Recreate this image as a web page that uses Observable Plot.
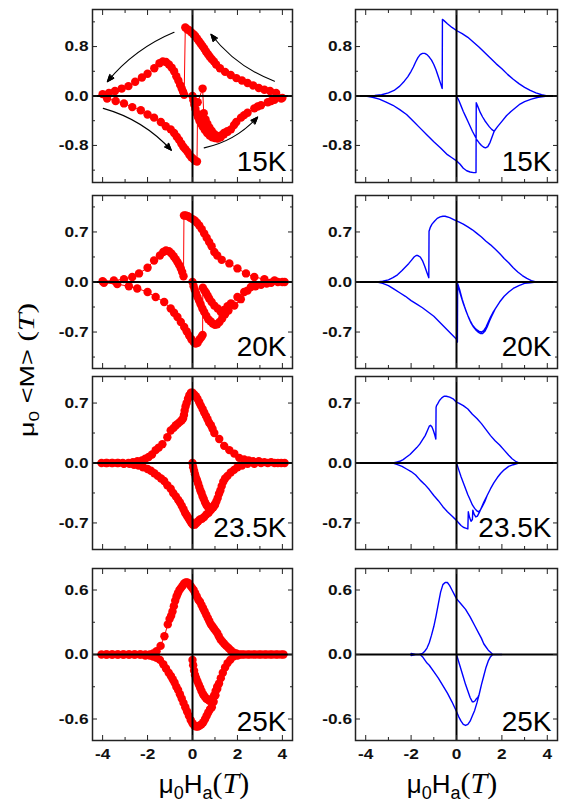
<!DOCTYPE html>
<html>
<head>
<meta charset="utf-8">
<script src="https://cdn.jsdelivr.net/npm/d3@7"></script>
<script src="https://cdn.jsdelivr.net/npm/@observablehq/plot@0.6"></script>
<style>
  html, body { margin: 0; padding: 0; background: #fff; }
  #root { position: relative; width: 564px; height: 806px; overflow: hidden; background: #fff; }
  .panel { position: absolute; }
  .overlay { position: absolute; left: 0; top: 0; pointer-events: none; }
</style>
</head>
<body>
<div id="root"></div>
<script>
// ---------------- DATA ----------------
const temps = ["15K", "20K", "23.5K", "25K"];
const hTicksMajor = [-4, -2, 0, 2, 4];
const hTicksMinor = [-3, -1, 1, 3];
const mTicksMajor = [[-0.8, 0, 0.8], [-0.7, 0, 0.7], [-0.7, 0, 0.7], [-0.6, 0, 0.6]];
const mTicksMinor = [[-1.2, -0.4, 0.4, 1.2], [-1.05, -0.35, 0.35, 1.05], [-0.35, 0.35], [-0.3, 0.3]];
const mDomains = [[-1.4, 1.4], [-1.21, 1.21], [-1.01, 1.01], [-0.8, 0.8]];
const hDomain = [-4.45, 4.45];

// measured (red dots): [mu0 Ha, mu0 <M>] in sweep order
const exp15K = [
  [0,0],[0.04,-0.07],[0.08,-0.14],[0.13,-0.21],[0.18,-0.28],[0.24,-0.34],[0.31,-0.4],[0.38,-0.45],[0.46,-0.5],[0.55,-0.55],[0.65,-0.6],[0.76,-0.64],[0.88,-0.67],[1.0,-0.68],[1.12,-0.69],[1.25,-0.67],[1.4,-0.62],[1.56,-0.58],[1.85,-0.47],[2.3,-0.31],[2.9,-0.17],[3.5,-0.08],[4.0,-0.03],
  [3.72,0.05],[3.45,0.08],[3.2,0.1],[2.95,0.13],[2.7,0.17],[2.45,0.21],[2.2,0.25],[1.95,0.29],[1.7,0.34],[1.45,0.39],[1.22,0.45],[1.05,0.51],[0.95,0.56],[0.85,0.6],[0.76,0.64],[0.68,0.68],[0.6,0.72],[0.52,0.77],[0.44,0.81],[0.36,0.85],[0.28,0.89],[0.2,0.93],[0.12,0.97],[0.04,1.0],[-0.05,1.03],[-0.14,1.06],[-0.23,1.08],[-0.32,1.11],
  [-0.37,0.02],[-0.42,0.07],[-0.48,0.12],[-0.55,0.18],[-0.63,0.25],[-0.72,0.32],[-0.82,0.4],[-0.93,0.46],[-1.05,0.51],[-1.18,0.55],[-1.32,0.56],[-1.47,0.53],[-1.7,0.45],[-2.0,0.36],[-2.25,0.3],[-2.55,0.23],[-2.85,0.16],[-3.15,0.12],[-3.45,0.08],[-3.72,0.05],[-4.0,0.03],
  [-3.8,-0.04],[-3.42,-0.08],[-3.05,-0.12],[-2.68,-0.18],[-2.3,-0.23],[-2.0,-0.3],[-1.71,-0.35],[-1.41,-0.42],[-1.19,-0.49],[-0.97,-0.54],[-0.82,-0.6],[-0.7,-0.66],[-0.6,-0.71],[-0.5,-0.77],[-0.41,-0.82],[-0.32,-0.86],[-0.23,-0.9],[-0.14,-0.95],[-0.05,-0.99],[0.04,-1.02],[0.12,-1.05],[0.2,-1.06],
  [0.23,-0.1],[0.45,0.12],[0.5,-0.28],[0.58,-0.38],[0.66,-0.45],[0.75,-0.51],[0.85,-0.56],[0.95,-0.61],[1.05,-0.64],[1.15,-0.66],[1.27,-0.64],[1.4,-0.6],[1.55,-0.57],[1.71,-0.54],[1.95,-0.42],[2.16,-0.35],[2.45,-0.27],[2.75,-0.2],[3.05,-0.15],[3.35,-0.1],[3.65,-0.06],[3.95,-0.04]
];
const exp20K = [
  [0,0],[0.05,-0.06],[0.1,-0.11],[0.16,-0.16],[0.22,-0.21],[0.29,-0.26],[0.36,-0.31],[0.44,-0.37],[0.52,-0.42],[0.61,-0.47],[0.7,-0.52],[0.8,-0.55],[0.9,-0.58],[1.0,-0.6],[1.1,-0.59],[1.2,-0.56],[1.32,-0.51],[1.45,-0.45],[1.6,-0.4],[1.86,-0.33],[2.15,-0.24],[2.45,-0.12],[2.8,-0.06],[3.3,-0.02],[3.8,0],[4.1,0],
  [3.65,0.02],[3.2,0.04],[2.75,0.07],[2.38,0.12],[2.0,0.19],[1.64,0.26],[1.3,0.31],[1.1,0.37],[0.97,0.42],[0.85,0.5],[0.74,0.56],[0.63,0.62],[0.52,0.68],[0.41,0.74],[0.3,0.79],[0.2,0.83],[0.1,0.86],[0,0.88],[-0.1,0.9],[-0.2,0.92],[-0.3,0.93],[-0.38,0.93],
  [-0.4,0.08],[-0.46,0.14],[-0.52,0.19],[-0.6,0.24],[-0.67,0.28],[-0.75,0.32],[-0.84,0.36],[-0.94,0.4],[-1.05,0.43],[-1.18,0.44],[-1.3,0.42],[-1.45,0.37],[-1.71,0.3],[-2.0,0.2],[-2.38,0.12],[-2.68,0.07],[-3.05,0.04],[-3.5,0.02],[-4.0,0.01],
  [-3.94,-0.01],[-3.35,-0.03],[-2.83,-0.06],[-2.46,-0.09],[-2.0,-0.14],[-1.64,-0.21],[-1.26,-0.28],[-0.97,-0.37],[-0.82,-0.43],[-0.67,-0.49],[-0.52,-0.56],[-0.37,-0.63],[-0.26,-0.69],[-0.15,-0.75],[-0.05,-0.8],[0.05,-0.84],[0.14,-0.86],[0.23,-0.85],[0.32,-0.8],[0.4,-0.77],[0.45,-0.74],
  [0.46,-0.08],[0.53,-0.12],[0.6,-0.15],[0.67,-0.19],[0.74,-0.23],[0.85,-0.28],[0.97,-0.33],[1.12,-0.37],[1.26,-0.42],[1.4,-0.39],[1.56,-0.34],[1.71,-0.3],[2.0,-0.21],[2.3,-0.14],[2.6,-0.07],[3.05,-0.04],[3.5,-0.01],[4.0,0]
];
const exp23K = [
  [0,0],[0.03,-0.05],[0.07,-0.09],[0.11,-0.13],[0.15,-0.17],[0.2,-0.2],[0.25,-0.24],[0.3,-0.28],[0.35,-0.32],[0.4,-0.35],[0.45,-0.39],[0.5,-0.42],[0.56,-0.46],[0.62,-0.49],[0.68,-0.51],[0.75,-0.53],[0.82,-0.53],[0.89,-0.52],[0.95,-0.5],[1.0,-0.48],[1.06,-0.45],[1.12,-0.41],[1.18,-0.36],[1.24,-0.32],[1.3,-0.27],[1.37,-0.22],[1.45,-0.18],[1.56,-0.15],[1.7,-0.11],[1.85,-0.08],[2.0,-0.05],[2.2,-0.03],[2.45,-0.01],[2.75,-0.01],[3.05,0],[3.35,0],[3.65,0],[3.95,0],[4.1,0],
  [3.8,0],[3.5,0.01],[3.2,0.01],[2.95,0.02],[2.7,0.02],[2.5,0.03],[2.3,0.04],[2.08,0.06],[1.86,0.11],[1.64,0.15],[1.41,0.2],[1.19,0.28],[0.97,0.35],[0.89,0.4],[0.82,0.44],[0.74,0.47],[0.67,0.51],[0.6,0.55],[0.52,0.59],[0.45,0.63],[0.37,0.67],[0.3,0.71],[0.22,0.75],[0.15,0.78],[0.07,0.8],[0,0.82],[-0.07,0.82],[-0.14,0.79],[-0.2,0.75],[-0.26,0.7],[-0.31,0.66],[-0.35,0.61],[-0.38,0.56],[-0.42,0.52],[-0.48,0.5],[-0.56,0.48],[-0.65,0.46],[-0.74,0.44],[-0.84,0.41],[-0.97,0.38],[-1.12,0.3],[-1.34,0.22],[-1.5,0.18],[-1.64,0.15],[-1.8,0.1],[-1.95,0.07],[-2.1,0.05],[-2.25,0.03],[-2.45,0.02],[-2.65,0.01],[-2.85,0],[-3.1,0],[-3.35,0],[-3.6,0],[-3.85,0],[-4.05,0],
  [-3.8,0],[-3.55,0],[-3.3,0],[-3.05,-0.01],[-2.8,-0.01],[-2.6,-0.02],[-2.4,-0.03],[-2.2,-0.05],[-2.0,-0.07],[-1.85,-0.09],[-1.7,-0.12],[-1.55,-0.15],[-1.4,-0.18],[-1.26,-0.21],[-1.12,-0.26],[-0.97,-0.3],[-0.86,-0.35],[-0.74,-0.39],[-0.64,-0.43],[-0.56,-0.46],[-0.48,-0.5],[-0.4,-0.54],[-0.33,-0.58],[-0.26,-0.61],[-0.19,-0.64],[-0.12,-0.67],[-0.05,-0.7],[0.02,-0.72],[0.1,-0.72],[0.18,-0.7],[0.25,-0.68],[0.33,-0.66],[0.42,-0.65],[0.52,-0.63],[0.62,-0.6],[0.72,-0.58],[0.82,-0.55],[0.92,-0.52],[1.0,-0.49]
];
const exp25K = [
  [0,-0.05],[0.03,-0.1],[0.07,-0.15],[0.11,-0.19],[0.16,-0.22],[0.22,-0.25],[0.28,-0.28],[0.34,-0.31],[0.4,-0.34],[0.47,-0.37],[0.54,-0.39],[0.61,-0.41],[0.68,-0.42],[0.75,-0.43],[0.82,-0.42],[0.89,-0.41],[0.96,-0.38],[1.03,-0.34],[1.1,-0.3],[1.18,-0.27],[1.26,-0.22],[1.35,-0.17],[1.45,-0.12],[1.56,-0.08],[1.68,-0.05],[1.82,-0.02],[2.0,-0.01],[2.2,0],[2.45,0],[2.7,0],[2.95,0],[3.2,0],[3.45,0],[3.7,0],[3.95,0],[4.05,0],
  [3.8,0],[3.55,0],[3.3,0],[3.05,0],[2.8,0],[2.55,0],[2.3,0],[2.1,0],[1.95,0.01],[1.82,0.02],[1.7,0.04],[1.6,0.06],[1.5,0.08],[1.41,0.1],[1.33,0.12],[1.25,0.14],[1.17,0.17],[1.1,0.2],[1.03,0.22],[0.96,0.24],[0.89,0.26],[0.82,0.28],[0.75,0.31],[0.68,0.34],[0.61,0.37],[0.54,0.4],[0.47,0.43],[0.4,0.46],[0.33,0.49],[0.26,0.51],[0.19,0.54],[0.12,0.57],[0.05,0.6],[-0.02,0.62],[-0.09,0.64],[-0.16,0.66],[-0.23,0.67],[-0.3,0.67],[-0.37,0.66],[-0.44,0.64],[-0.51,0.62],[-0.58,0.6],[-0.65,0.57],[-0.71,0.54],[-0.77,0.5],[-0.83,0.45],[-0.89,0.4],[-0.95,0.36],[-1.02,0.33],[-1.1,0.28],[-1.25,0.17],[-1.42,0.08],[-1.6,0.03],[-1.75,0.01],[-1.9,0],[-2.1,0],[-2.35,0],[-2.6,0],[-2.85,0],[-3.1,0],[-3.35,0],[-3.6,0],[-3.85,0],[-4.05,0],
  [-3.8,0],[-3.55,0],[-3.3,0],[-3.05,0],[-2.8,0],[-2.55,0],[-2.3,0],[-2.1,-0.01],[-1.9,-0.01],[-1.75,-0.02],[-1.6,-0.03],[-1.45,-0.05],[-1.3,-0.09],[-1.18,-0.13],[-1.06,-0.17],[-0.96,-0.2],[-0.88,-0.23],[-0.8,-0.26],[-0.72,-0.3],[-0.64,-0.33],[-0.56,-0.37],[-0.48,-0.41],[-0.4,-0.45],[-0.32,-0.49],[-0.24,-0.53],[-0.16,-0.57],[-0.08,-0.61],[0,-0.64],[0.08,-0.66],[0.16,-0.67],[0.24,-0.67],[0.32,-0.66],[0.4,-0.65],[0.48,-0.63],[0.56,-0.6],[0.63,-0.57],[0.7,-0.54],[0.78,-0.51],[0.86,-0.49],[0.94,-0.44],[1.02,-0.38],[1.1,-0.32]
];

// simulated (blue lines): [mu0 Ha, mu0 <M>] in sweep order
const sim15K = [
  [0,0],[0.1,-0.07],[0.2,-0.16],[0.3,-0.25],[0.4,-0.33],[0.5,-0.41],[0.6,-0.49],[0.7,-0.57],[0.8,-0.64],[0.9,-0.71],[1.0,-0.76],[1.1,-0.8],[1.2,-0.83],[1.28,-0.84],[1.38,-0.82],[1.48,-0.75],[1.57,-0.66],[1.66,-0.57],[1.8,-0.5],[2.0,-0.41],[2.2,-0.32],[2.4,-0.25],[2.6,-0.19],[2.8,-0.13],[3.0,-0.09],[3.3,-0.05],[3.6,-0.02],[4.0,0],
  [3.75,0.02],[3.5,0.05],[3.25,0.09],[3.0,0.14],[2.75,0.2],[2.5,0.27],[2.25,0.35],[2.0,0.44],[1.75,0.52],[1.5,0.61],[1.25,0.7],[1.0,0.79],[0.75,0.87],[0.5,0.95],[0.25,1.01],[0,1.06],[-0.2,1.11],[-0.4,1.17],[-0.55,1.22],[-0.62,1.24],
  [-0.63,0.12],[-0.7,0.2],[-0.8,0.31],[-0.9,0.42],[-1.0,0.51],[-1.1,0.58],[-1.2,0.63],[-1.3,0.67],[-1.4,0.69],[-1.5,0.69],[-1.6,0.67],[-1.7,0.62],[-1.8,0.55],[-1.9,0.47],[-2.0,0.4],[-2.15,0.31],[-2.3,0.24],[-2.5,0.16],[-2.75,0.09],[-3.0,0.05],[-3.3,0.02],[-3.6,0.01],[-4.0,0],
  [-3.7,-0.02],[-3.4,-0.05],[-3.1,-0.1],[-2.8,-0.15],[-2.5,-0.22],[-2.2,-0.3],[-1.9,-0.41],[-1.6,-0.52],[-1.3,-0.63],[-1.0,-0.74],[-0.7,-0.84],[-0.4,-0.95],[-0.2,-1.0],[0,-1.05],[0.15,-1.1],[0.3,-1.17],[0.45,-1.21],[0.6,-1.23],[0.75,-1.24],[0.86,-1.24],
  [0.87,-0.11],[0.95,-0.18],[1.05,-0.27],[1.15,-0.34],[1.25,-0.4],[1.35,-0.45],[1.45,-0.5],[1.55,-0.54],[1.66,-0.57],[1.8,-0.5],[2.0,-0.41],[2.2,-0.32],[2.4,-0.25],[2.6,-0.19],[2.8,-0.13],[3.0,-0.09],[3.3,-0.05],[3.6,-0.02],[4.0,0]
];
const sim20K = [
  [0,0],[0.1,-0.09],[0.2,-0.2],[0.3,-0.3],[0.4,-0.39],[0.5,-0.47],[0.6,-0.54],[0.7,-0.6],[0.8,-0.64],[0.9,-0.67],[1.0,-0.69],[1.1,-0.7],[1.2,-0.68],[1.3,-0.63],[1.4,-0.56],[1.5,-0.49],[1.6,-0.43],[1.7,-0.38],[1.9,-0.28],[2.1,-0.2],[2.3,-0.14],[2.5,-0.09],[2.75,-0.05],[3.0,-0.02],[3.25,-0.01],[3.5,0],
  [3.3,0.02],[3.1,0.05],[2.9,0.09],[2.7,0.14],[2.5,0.2],[2.3,0.27],[2.1,0.33],[1.9,0.4],[1.7,0.46],[1.5,0.52],[1.3,0.57],[1.1,0.63],[0.9,0.68],[0.7,0.73],[0.5,0.77],[0.3,0.81],[0.1,0.84],[-0.1,0.87],[-0.3,0.9],[-0.5,0.92],[-0.6,0.92],[-0.72,0.91],[-0.85,0.89],[-0.97,0.85],[-1.08,0.81],[-1.16,0.76],[-1.21,0.71],
  [-1.22,0.06],[-1.3,0.13],[-1.4,0.22],[-1.5,0.3],[-1.6,0.35],[-1.7,0.37],[-1.78,0.37],[-1.87,0.35],[-1.97,0.31],[-2.1,0.26],[-2.25,0.21],[-2.4,0.16],[-2.6,0.1],[-2.8,0.06],[-3.0,0.03],[-3.25,0.01],[-3.5,0],
  [-3.25,-0.02],[-3.0,-0.05],[-2.75,-0.1],[-2.5,-0.15],[-2.25,-0.2],[-2.0,-0.26],[-1.75,-0.31],[-1.5,-0.36],[-1.25,-0.42],[-1.0,-0.48],[-0.75,-0.56],[-0.5,-0.64],[-0.25,-0.72],[0,-0.8],[0.04,-0.84],
  [0.05,-0.02],[0.15,-0.12],[0.25,-0.24],[0.35,-0.34],[0.45,-0.43],[0.55,-0.51],[0.65,-0.58],[0.75,-0.63],[0.85,-0.67],[0.95,-0.7],[1.05,-0.72],[1.15,-0.72],[1.25,-0.69],[1.35,-0.63],[1.45,-0.55],[1.55,-0.48],[1.7,-0.38],[1.9,-0.28],[2.1,-0.2],[2.3,-0.14],[2.5,-0.09],[2.75,-0.05],[3.0,-0.02],[3.25,-0.01],[3.5,0]
];
const sim23K = [
  [0,0],[0.1,-0.08],[0.2,-0.16],[0.3,-0.23],[0.4,-0.3],[0.5,-0.37],[0.6,-0.43],[0.7,-0.49],[0.8,-0.53],[0.9,-0.56],[0.97,-0.57],[1.05,-0.55],[1.15,-0.5],[1.25,-0.45],[1.35,-0.38],[1.5,-0.3],[1.65,-0.23],[1.8,-0.17],[1.95,-0.12],[2.1,-0.08],[2.3,-0.04],[2.5,-0.02],[2.75,0],
  [2.6,0.02],[2.45,0.05],[2.3,0.09],[2.1,0.15],[1.9,0.21],[1.7,0.26],[1.5,0.32],[1.3,0.39],[1.1,0.46],[0.9,0.52],[0.7,0.57],[0.5,0.63],[0.3,0.67],[0.1,0.7],[0,0.71],[-0.15,0.75],[-0.3,0.77],[-0.45,0.78],[-0.55,0.78],[-0.65,0.76],[-0.75,0.73],[-0.83,0.69],[-0.88,0.67],[-0.9,0.65],
  [-0.91,0.28],[-0.96,0.33],[-1.02,0.38],[-1.08,0.42],[-1.14,0.44],[-1.2,0.43],[-1.28,0.38],[-1.38,0.32],[-1.5,0.27],[-1.62,0.22],[-1.75,0.18],[-1.9,0.14],[-2.05,0.1],[-2.2,0.07],[-2.35,0.04],[-2.5,0.02],[-2.65,0.01],[-2.8,0],
  [-2.6,-0.02],[-2.4,-0.04],[-2.2,-0.07],[-2.0,-0.1],[-1.8,-0.14],[-1.6,-0.2],[-1.4,-0.25],[-1.2,-0.31],[-1.0,-0.38],[-0.8,-0.44],[-0.6,-0.51],[-0.4,-0.57],[-0.2,-0.62],[0,-0.67],[0.1,-0.7],[0.2,-0.73],[0.3,-0.75],[0.4,-0.76],[0.5,-0.77],
  [0.52,-0.57],[0.58,-0.64],[0.64,-0.68],[0.7,-0.66],[0.72,-0.55],[0.78,-0.6],[0.85,-0.63],[0.92,-0.62],[1.0,-0.58],[1.1,-0.52],[1.2,-0.46],[1.35,-0.38],[1.5,-0.3],[1.65,-0.23],[1.8,-0.17],[1.95,-0.12],[2.1,-0.08],[2.3,-0.04],[2.5,-0.02],[2.75,0]
];
const sim25K = [
  [0,0],[0.1,-0.07],[0.2,-0.14],[0.3,-0.21],[0.4,-0.28],[0.5,-0.34],[0.6,-0.4],[0.7,-0.44],[0.76,-0.44],[0.82,-0.43],[0.88,-0.41],[0.94,-0.4],[1.0,-0.37],[1.1,-0.28],[1.2,-0.2],[1.3,-0.12],[1.4,-0.06],[1.5,-0.02],[1.6,0],[1.8,0],[2.0,0],
  [1.8,0],[1.6,0],[1.5,0.02],[1.4,0.04],[1.3,0.07],[1.2,0.1],[1.1,0.15],[1.0,0.19],[0.8,0.27],[0.6,0.35],[0.4,0.42],[0.2,0.47],[0,0.52],[-0.1,0.56],[-0.2,0.6],[-0.3,0.64],[-0.4,0.67],[-0.5,0.67],[-0.6,0.65],[-0.7,0.58],[-0.8,0.47],[-0.9,0.36],[-1.0,0.26],[-1.1,0.18],[-1.2,0.11],[-1.3,0.06],[-1.4,0.03],[-1.5,0.01],[-1.65,0],[-1.8,0],[-2.0,0.01],
  [-2.0,-0.01],[-1.8,0],[-1.6,0],[-1.5,-0.02],[-1.4,-0.05],[-1.3,-0.08],[-1.2,-0.1],[-1.0,-0.16],[-0.8,-0.22],[-0.6,-0.29],[-0.4,-0.36],[-0.2,-0.44],[0,-0.53],[0.1,-0.58],[0.2,-0.62],[0.3,-0.65],[0.4,-0.66],[0.5,-0.65],[0.6,-0.62],[0.7,-0.57],[0.8,-0.52],[0.9,-0.45],[1.0,-0.37],[1.1,-0.28],[1.2,-0.2],[1.3,-0.12],[1.4,-0.06],[1.5,-0.02],[1.6,0],[1.8,0],[2.0,0]
];
const expSeries = [exp15K, exp20K, exp23K, exp25K];
const simSeries = [sim15K, sim20K, sim23K, sim25K];

// sweep-direction arrows drawn in the 15K measured panel: [H1, M1, H2, M2]
const sweepArrows15K = [
  [-0.82, 1.03, -3.79, 0.23],
  [3.65, 0.24, 0.82, 1.0],
  [-3.97, -0.2, -0.94, -0.88],
  [0.52, -0.84, 2.9, -0.34]
];
const sweepArrowBend = [-14, 16, 16, -18];

// ---------------- LAYOUT ----------------
const SANS = "'Liberation Sans', Arial, Helvetica, sans-serif";
const SERIF = "'Liberation Serif', 'Times New Roman', serif";
const rows = [{top: 9, bottom: 182}, {top: 195, bottom: 368}, {top: 376, bottom: 549}, {top: 568, bottom: 740}];
const cols = [{left: 0, width: 300, ml: 92, mr: 8, pad: 4}, {left: 280, width: 284, ml: 75, mr: 7, pad: 3.5}];
const labelLift = [12, 13, 12.5, 10];

const root = document.getElementById("root");

function stretchText(svg, selector, sx) {
  d3.select(svg).selectAll(selector).each(function () {
    let t = this.getAttribute("transform");
    if (!t) {
      const x = this.getAttribute("x") || 0, y = this.getAttribute("y") || 0;
      this.removeAttribute("x"); this.removeAttribute("y");
      t = `translate(${x},${y})`;
    }
    this.setAttribute("transform", `${t} scale(${sx},1)`);
  });
}

function fillArrowHeads(svg) {
  d3.select(svg).selectAll('g[aria-label="arrow"] path').each(function () {
    const d = this.getAttribute("d");
    const i = d.lastIndexOf("M");
    if (i <= 0) return;
    const p = document.createElementNS("http://www.w3.org/2000/svg", "path");
    p.setAttribute("d", d.slice(i) + "Z");
    p.setAttribute("fill", "#000");
    p.setAttribute("stroke", "#000");
    p.setAttribute("stroke-width", "1");
    p.setAttribute("stroke-linejoin", "miter");
    this.parentNode.appendChild(p);
  });
}

function panel(row, col) {
  const r = rows[row], c = cols[col];
  const isBottom = row === 3;
  const mt = 2, mb = isBottom ? 28 : 2;
  const height = (r.bottom - r.top) + mt + mb;
  const pts = col === 0 ? expSeries[row] : simSeries[row];
  const H = pts.map(d => d[0]), M = pts.map(d => d[1]);
  const marks = [];
  if (col === 0) {
    marks.push(Plot.line(pts, {x: H, y: M, stroke: "#ff0000", strokeWidth: 1, curve: "linear"}));
    marks.push(Plot.dot(pts, {x: H, y: M, r: 4.2, fill: "#ff0000", stroke: "none"}));
  } else {
    marks.push(Plot.line(pts, {x: H, y: M, stroke: "#0000ff", strokeWidth: 1.4, curve: "linear"}));
  }
  if (row === 0 && col === 0) {
    sweepArrows15K.forEach((a, i) => {
      marks.push(Plot.arrow([a], {x1: d => d[0], y1: d => d[1], x2: d => d[2], y2: d => d[3],
        bend: sweepArrowBend[i], stroke: "#000", strokeWidth: 1.1, headLength: 10, headAngle: 42}));
    });
  }
  marks.push(
    Plot.ruleY([0], {stroke: "#000", strokeWidth: 2}),
    Plot.ruleX([0], {stroke: "#000", strokeWidth: 2}),
    Plot.frame({stroke: "#222", strokeWidth: 1.5}),
    Plot.axisY(mTicksMajor[row], {anchor: "left", tickSize: -5, fill: "none", label: null, stroke: "#222"}),
    Plot.axisY(mTicksMinor[row], {anchor: "left", tickSize: -3, fill: "none", label: null, stroke: "#222"}),
    Plot.axisY(mTicksMajor[row], {anchor: "right", tickSize: -5, fill: "none", label: null, stroke: "#222"}),
    Plot.axisY(mTicksMinor[row], {anchor: "right", tickSize: -3, fill: "none", label: null, stroke: "#222"}),
    Plot.axisX(hTicksMajor, {anchor: "top", tickSize: -5, fill: "none", label: null, stroke: "#222"}),
    Plot.axisX(hTicksMinor, {anchor: "top", tickSize: -3, fill: "none", label: null, stroke: "#222"}),
    Plot.axisX(hTicksMajor, {anchor: "bottom", tickSize: -5, fill: "none", label: null, stroke: "#222"}),
    Plot.axisX(hTicksMinor, {anchor: "bottom", tickSize: -3, fill: "none", label: null, stroke: "#222"}),
    Plot.axisY(mTicksMajor[row], {anchor: "left", tickSize: 0, tickPadding: c.pad, label: null,
      tickFormat: d => d.toFixed(1), fontSize: 15, fontWeight: "bold", fill: "#111"}),
    Plot.text([temps[row]], {frameAnchor: "bottom-right", dx: -6, dy: -labelLift[row], text: d => d,
      textAnchor: "end", lineAnchor: "bottom", fontSize: 28, fill: "#000", fontFamily: SANS})
  );
  if (isBottom) {
    marks.push(Plot.axisX(hTicksMajor, {anchor: "bottom", tickSize: 0, tickPadding: 8, label: null,
      tickFormat: d => String(d), fontSize: 15, fontWeight: "bold", fill: "#111"}));
  }
  const svg = Plot.plot({
    width: c.width, height,
    marginLeft: c.ml, marginRight: c.mr, marginTop: mt, marginBottom: mb,
    style: {background: "transparent", maxWidth: "none", overflow: "visible", fontFamily: SANS},
    x: {domain: hDomain},
    y: {domain: mDomains[row]},
    marks
  });
  stretchText(svg, 'g[aria-label="y-axis tick label"] text, g[aria-label="x-axis tick label"] text', 1.15);
  fillArrowHeads(svg);
  const div = document.createElement("div");
  div.className = "panel";
  div.style.left = c.left + "px";
  div.style.top = (r.top - mt) + "px";
  div.appendChild(svg);
  root.appendChild(div);
}

for (let row = 0; row < 4; row++) for (let col = 0; col < 2; col++) panel(row, col);

// ---------------- AXIS TITLES ----------------
const overlay = d3.create("svg").attr("class", "overlay").attr("width", 564).attr("height", 806);
function xTitle(cx) {
  const t = overlay.append("text").attr("x", cx).attr("y", 793).attr("text-anchor", "middle")
    .attr("font-family", SANS).attr("font-size", 26).attr("fill", "#000");
  t.append("tspan").text("μ");
  t.append("tspan").attr("font-size", 18).attr("dy", 6).text("0");
  t.append("tspan").attr("dy", -6).text("H");
  t.append("tspan").attr("font-size", 18).attr("dy", 6).text("a");
  t.append("tspan").attr("dy", -6).attr("font-family", SERIF).attr("font-size", 30).text("(");
  t.append("tspan").attr("font-family", SERIF).attr("font-style", "italic").attr("font-size", 30).text("T");
  t.append("tspan").attr("font-family", SERIF).attr("font-size", 30).text(")");
}
xTitle(204);
xTitle(452);
{
  const t = overlay.append("text").attr("transform", "translate(34,437) rotate(-90) scale(1,0.75)")
    .attr("font-family", SANS).attr("font-size", 27).attr("fill", "#000");
  t.append("tspan").text("μ");
  t.append("tspan").attr("font-size", 19).attr("dy", 6).text("0");
  t.append("tspan").attr("dy", -6).text(" <M> ");
  t.append("tspan").attr("font-family", SERIF).attr("font-size", 32).text("(");
  t.append("tspan").attr("font-family", SERIF).attr("font-style", "italic").attr("font-size", 32).text("T");
  t.append("tspan").attr("font-family", SERIF).attr("font-size", 32).text(")");
}
root.appendChild(overlay.node());
</script>
</body>
</html>
